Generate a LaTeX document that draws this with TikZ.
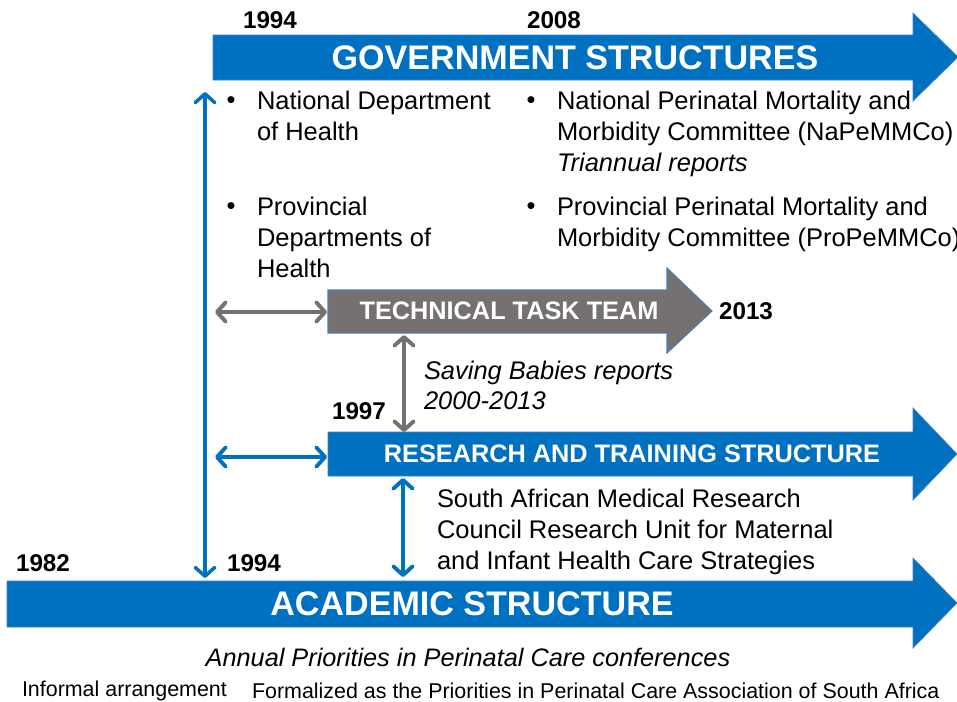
\documentclass[tikz,border=0pt]{standalone}
\usepackage{fontspec}
\setmainfont{Liberation Sans}
\usetikzlibrary{arrows.meta}
\definecolor{strucblue}{HTML}{0070C0}
\definecolor{teamgray}{HTML}{767171}
\definecolor{rimblue}{HTML}{4A7EBB}
\begin{document}
\begin{tikzpicture}[x=0.02cm,y=-0.02cm,inner sep=0pt,outer sep=0pt,
bigarrow/.style={fill=strucblue,draw=rimblue,line width=0.4pt},
graybox/.style={fill=teamgray,draw=rimblue,line width=0.6pt},
bigtitle/.style={text=white,font=\fontsize{19.4}{22}\selectfont\bfseries},
smalltitle/.style={text=white,font=\fontsize{14.4}{17}\selectfont\bfseries},
yearlbl/.style={font=\fontsize{13.8}{16}\selectfont\bfseries},
bodytxt/.style={font=\fontsize{14.5}{17.6}\selectfont,align=left,anchor=north west},
bullet/.style={font=\fontsize{14.5}{17.6}\selectfont},
linkgray/.style={{Straight Barb[length=5pt,width=11pt,round]}-{Straight Barb[length=5pt,width=11pt,round]},line width=2.2pt,draw=teamgray},
linkblue/.style={{Straight Barb[length=5pt,width=11pt,round]}-{Straight Barb[length=5pt,width=11pt,round]},line width=2.2pt,draw=strucblue}]
\useasboundingbox (0,0) rectangle (957,701);

% government structures
\draw[bigarrow] (213,35) -- (913,35) -- (913,13) -- (958,57) -- (913,101) -- (913,80) -- (213,80) -- cycle;
\node[bigtitle] (gov) at (575,58) {GOVERNMENT STRUCTURES};
\node[yearlbl] (govyr) at (270,20) {1994};
\node[yearlbl] (napyr) at (554,20) {2008};
\coordinate (govfoot) at (205,92);

\node[bullet] (b1) at (231,103) {\textbullet};
\node[bodytxt] (natdep) at (257,91) {National Department\\of Health};
\node[bullet] (b2) at (231,209) {\textbullet};
\node[bodytxt] (provdep) at (257,197) {Provincial\\Departments of\\Health};
\node[bullet] (b3) at (531,103) {\textbullet};
\node[bodytxt] (napem) at (557,91) {National Perinatal Mortality and\\Morbidity Committee (NaPeMMCo)\\\textit{Triannual reports}};
\node[bullet] (b4) at (531,209) {\textbullet};
\node[bodytxt] (propem) at (557,197) {Provincial Perinatal Mortality and\\Morbidity Committee (ProPeMMCo)};

% technical task team
\draw[graybox] (328,290) -- (667,290) -- (667,268) -- (712,311) -- (667,353) -- (667,333) -- (328,333) -- cycle;
\node[smalltitle] (ttt) at (509,311) {TECHNICAL TASK TEAM};
\node[yearlbl] (tttyr) at (746,311) {2013};
\coordinate (tttleft) at (327,312);
\coordinate (tttfoot) at (404,335);

\node[bodytxt,font=\fontsize{14.5}{17.2}\selectfont\itshape] (sbr) at (424,361) {Saving Babies reports\\2000-2013};

% research and training structure
\draw[bigarrow] (328,432) -- (913,432) -- (913,408) -- (957,454) -- (913,500) -- (913,476) -- (328,476) -- cycle;
\node[smalltitle] (rts) at (632,454) {RESEARCH AND TRAINING STRUCTURE};
\node[yearlbl] (rtsyr) at (359,411) {1997};
\coordinate (rtsleft) at (327,457);
\coordinate (rtstop) at (404,432);
\coordinate (rtsfoot) at (403,478);

\node[bodytxt] (mrc) at (437,489) {South African Medical Research\\Council Research Unit for Maternal\\and Infant Health Care Strategies};

% academic structure
\draw[bigarrow] (7,581) -- (913,581) -- (913,558) -- (957,603) -- (913,648) -- (913,627) -- (7,627) -- cycle;
\node[bigtitle] (acad) at (472,604) {ACADEMIC STRUCTURE};
\node[yearlbl] (acadyr) at (43,563) {1982};
\node[yearlbl] (acadyr2) at (254,563) {1994};
\coordinate (acadtop) at (205,578);
\coordinate (acadmid) at (403,577);
\coordinate (vline) at (215,312);
\coordinate (vline2) at (215,457);

\node[font=\fontsize{14.4}{17}\selectfont\itshape] (conf) at (468,657) {Annual Priorities in Perinatal Care conferences};
\node[font=\fontsize{12.2}{15}\selectfont,anchor=west] (informal) at (22,691) {Informal arrangement};
\node[font=\fontsize{12.2}{15}\selectfont,anchor=west] (formal) at (252,691) {Formalized as the Priorities in Perinatal Care Association of South Africa};

% links
\draw[linkblue,line width=2pt] (govfoot) -- (acadtop);
\draw[linkgray] (vline) -- (tttleft);
\draw[linkgray] (tttfoot) -- (rtstop);
\draw[linkblue] (vline2) -- (rtsleft);
\draw[linkblue] (rtsfoot) -- (acadmid);
\end{tikzpicture}
\end{document}
